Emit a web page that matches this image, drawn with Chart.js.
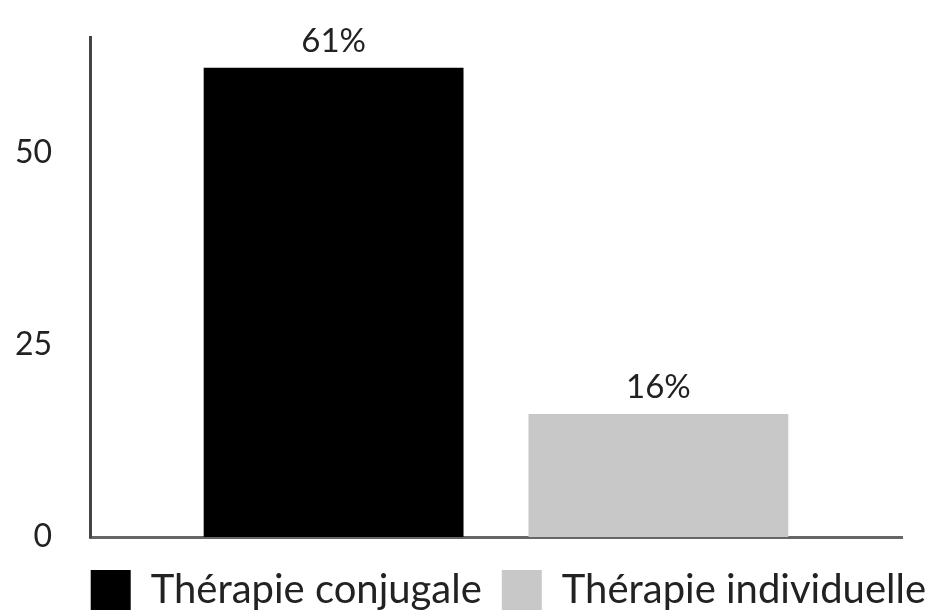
<!DOCTYPE html>
<html>
<head>
<meta charset="utf-8">
<script src="https://cdn.jsdelivr.net/npm/chart.js@4.4.1/dist/chart.umd.min.js"></script>
<style>
  html, body { margin: 0; padding: 0; background: #fff; }
  #wrap { width: 946px; height: 616px; }
</style>
</head>
<body>
<div id="wrap"><canvas id="therapyChart"></canvas></div>
<script>
// Données
const seriesNames = ['Thérapie conjugale', 'Thérapie individuelle'];
const seriesValues = [61, 16];
const seriesColors = ['#000000', '#c8c8c8'];
const yTicks = [0, 25, 50];
const yMax = 65;

// Étiquette "xx%" au-dessus de chaque barre
const valueLabels = {
    id: 'valueLabels',
    afterDatasetsDraw(chart) {
        const ctx = chart.ctx;
        ctx.save();
        ctx.font = '33px Lato';
        ctx.fillStyle = '#222';
        ctx.textAlign = 'center';
        ctx.textBaseline = 'bottom';
        chart.data.datasets.forEach((ds, i) => {
            chart.getDatasetMeta(i).data.forEach((bar, j) => {
                ctx.fillText(ds.data[j] + '%', bar.x, bar.y - 10);
            });
        });
        ctx.restore();
    }
};

const ctx = document.getElementById('therapyChart').getContext('2d');
new Chart(ctx, {
    type: 'bar',
    data: {
        labels: [''],
        datasets: seriesNames.map((name, i) => ({
            label: name,
            data: [seriesValues[i]],
            backgroundColor: seriesColors[i],
            borderWidth: 0,
            barPercentage: 0.8,
            categoryPercentage: 0.8
        }))
    },
    options: {
        responsive: true,
        maintainAspectRatio: false,
        animation: false,
        layout: { padding: { left: 13, right: 0, top: 37, bottom: -4 } },
        scales: {
            x: {
                grid: { display: false },
                border: { display: true, color: '#666', width: 3 },
                ticks: { display: false },
                afterFit: axis => { axis.height = 13; }
            },
            y: {
                min: 0,
                max: yMax,
                afterBuildTicks: axis => { axis.ticks = yTicks.map(v => ({ value: v })); },
                afterFit: axis => {
                    axis.width = 77;
                    axis.paddingTop = 0;
                    axis.paddingBottom = 0;
                },
                grid: { display: false, drawTicks: false },
                border: { display: true, color: '#444', width: 3 },
                ticks: { color: '#222', font: { family: 'Lato', size: 32 }, padding: 38 }
            },
            // axe vide à droite : marge du graphique sans rétrécir la légende
            yRight: {
                position: 'right',
                grid: { display: false },
                border: { display: false },
                ticks: { display: false },
                afterFit: axis => { axis.width = 44; }
            }
        },
        plugins: {
            legend: {
                position: 'bottom',
                align: 'end',
                onClick: (e) => e.stopPropagation(),
                labels: {
                    color: '#222',
                    font: { family: 'Lato', size: 40 },
                    boxWidth: 40,
                    boxHeight: 40,
                    padding: 20
                }
            },
            tooltip: { enabled: false }
        }
    },
    plugins: [valueLabels]
});
</script>
</body>
</html>
